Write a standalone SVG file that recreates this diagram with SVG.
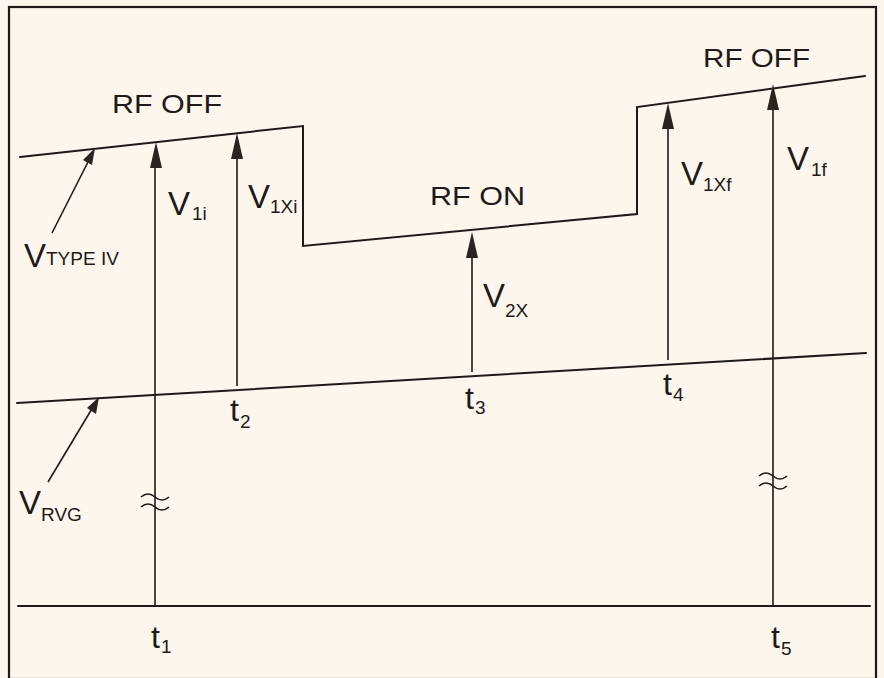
<svg xmlns="http://www.w3.org/2000/svg" width="884" height="678" viewBox="0 0 884 678">
<style>
.ln{stroke:#1e1a18;stroke-width:2;fill:none;stroke-linecap:round;stroke-linejoin:miter}
.th{stroke:#1e1a18;stroke-width:1.6;fill:none}
.ah{fill:#2a2420;stroke:none}
text{font-family:"Liberation Sans","DejaVu Sans",sans-serif;fill:#1e1a18}
.big{font-size:25px}
.v{font-size:33px}
.t{font-size:32px}
.sub{font-size:19px}
</style>
<rect x="0" y="0" width="884" height="678" fill="#fcf6ec"/>
<rect x="9" y="7" width="867" height="672" fill="none" stroke="#1e1a18" stroke-width="2.2"/>

<g id="curves">
<polyline id="vtype" class="ln" points="20,157 303,126 303,246 637,214 637,107 865,76"/>
<line id="vrvg" class="ln" x1="17" y1="403" x2="866" y2="353"/>
<line id="axis" class="ln" x1="18" y1="606" x2="870" y2="606"/>
</g>

<g id="connectors">
<line class="th" x1="155" y1="606" x2="155" y2="160"/>
<polygon class="ah" points="156,142 150,168 162,168"/>
<line class="th" x1="237" y1="386" x2="237" y2="150"/>
<polygon class="ah" points="237,133 231,159 243,159"/>
<line class="th" x1="472" y1="372" x2="472" y2="250"/>
<polygon class="ah" points="472,232 466,258 478,258"/>
<line class="th" x1="668" y1="360" x2="668" y2="120"/>
<polygon class="ah" points="668,103 662,129 674,129"/>
<line class="th" x1="773" y1="606" x2="773" y2="100"/>
<polygon class="ah" points="773,84 767,110 779,110"/>
<line class="th" x1="52" y1="233" x2="90" y2="158"/>
<polygon class="ah" points="95,148 83,160 92,165"/>
<line class="th" x1="48" y1="482" x2="93" y2="407"/>
<polygon class="ah" points="99,397 87,408 96,414"/>
<path class="th" d="M141,497 q7,-6 14,0 t14,0 M141,507 q7,-6 14,0 t14,0" stroke-width="2"/>
<path class="th" d="M759,476 q7,-6 14,0 t14,0 M759,486 q7,-6 14,0 t14,0" stroke-width="2"/>
</g>

<g id="labels">
<text class="big" x="112" y="113" textLength="110" lengthAdjust="spacingAndGlyphs">RF OFF</text>
<text class="big" x="430" y="205" textLength="95" lengthAdjust="spacingAndGlyphs">RF ON</text>
<text class="big" x="703" y="67" textLength="107" lengthAdjust="spacingAndGlyphs">RF OFF</text>

<text id="v1i" class="v"><tspan x="168" y="215">V</tspan><tspan class="sub" x="192" y="220">1i</tspan></text>
<text id="v1xi" class="v"><tspan x="248" y="208">V</tspan><tspan class="sub" x="270" y="213">1Xi</tspan></text>
<text id="vtypeiv" class="v"><tspan x="24" y="267">V</tspan><tspan class="sub" x="46" y="265" font-size="17">TYPE IV</tspan></text>
<text id="v2x" class="v"><tspan x="483" y="307">V</tspan><tspan class="sub" x="505" y="317">2X</tspan></text>
<text id="v1xf" class="v"><tspan x="681" y="185">V</tspan><tspan class="sub" x="703" y="191">1Xf</tspan></text>
<text id="v1f" class="v"><tspan x="787" y="170">V</tspan><tspan class="sub" x="811" y="176">1f</tspan></text>
<text id="vrvg-l" class="v"><tspan x="19" y="514">V</tspan><tspan class="sub" x="41" y="521">RVG</tspan></text>

<text id="t1" class="t"><tspan x="151" y="648">t</tspan><tspan class="sub" x="161" y="653">1</tspan></text>
<text id="t2" class="t"><tspan x="230" y="421">t</tspan><tspan class="sub" x="240" y="428">2</tspan></text>
<text id="t3" class="t"><tspan x="465" y="409">t</tspan><tspan class="sub" x="475" y="414">3</tspan></text>
<text id="t4" class="t"><tspan x="663" y="395">t</tspan><tspan class="sub" x="673" y="401">4</tspan></text>
<text id="t5" class="t"><tspan x="771" y="648">t</tspan><tspan class="sub" x="781" y="655">5</tspan></text>
</g>
</svg>
